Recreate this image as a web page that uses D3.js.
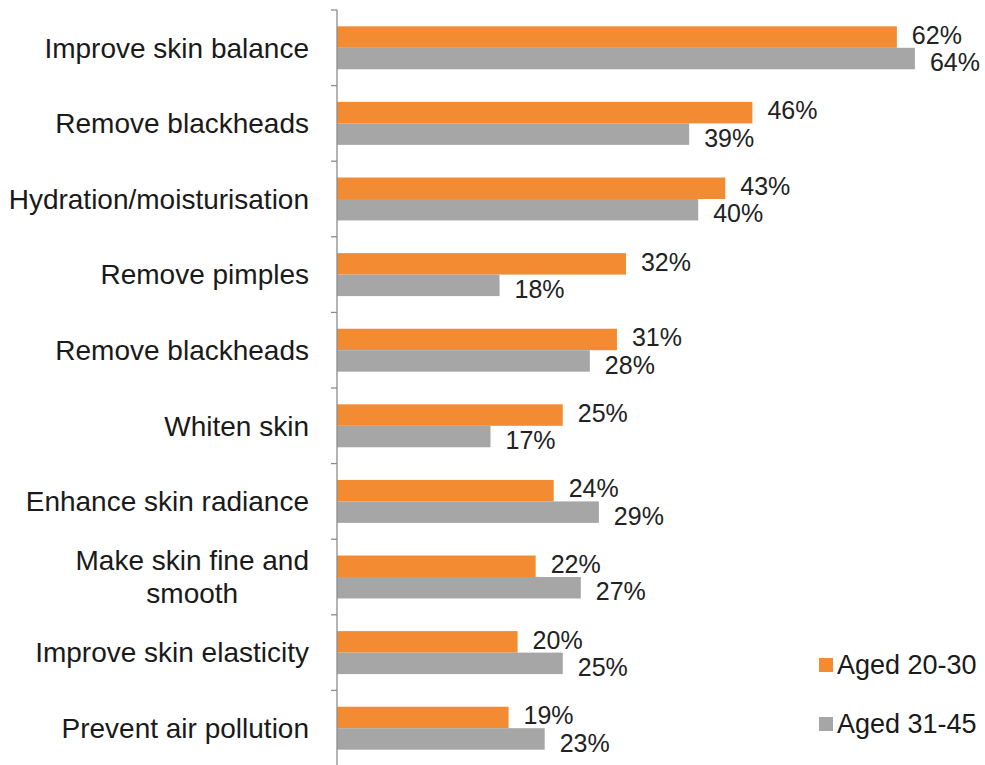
<!DOCTYPE html>
<html>
<head>
<meta charset="utf-8">
<script src="https://cdn.jsdelivr.net/npm/d3@7/dist/d3.min.js"></script>
<style>
  html, body { margin: 0; padding: 0; background: #ffffff; }
  svg { display: block; font-family: "Liberation Sans", Arial, sans-serif; }
</style>
</head>
<body>
<svg id="chart" width="985" height="765"></svg>
<script>
// Skin-care benefits sought, by age group (share of respondents, %)
const categories = [
  "Improve skin balance",
  "Remove blackheads",
  "Hydration/moisturisation",
  "Remove pimples",
  "Remove blackheads ",
  "Whiten skin",
  "Enhance skin radiance",
  "Make skin fine and|smooth",
  "Improve skin elasticity",
  "Prevent air pollution"
];
const seriesNames = ["Aged 20-30", "Aged 31-45"];
const aged20to30 = [62, 46, 43, 32, 31, 25, 24, 22, 20, 19];
const aged31to45 = [64, 39, 40, 18, 28, 17, 29, 27, 25, 23];
const seriesValues = [aged20to30, aged31to45];
const colors = ["#F28B32", "#A6A6A6"];

const svg = d3.select("#chart");
const W = 985, H = 765;
const axisX = 337;

const x = d3.scaleLinear().domain([0, 70]).range([axisX, axisX + 70 * 9.03]);
const y = d3.scaleBand().domain(categories).range([10, 766]).padding(0);
const ySeries = d3.scaleBand().domain(seriesNames)
  .range([0, y.bandwidth()]).paddingInner(0).paddingOuter(0.76);

const rows = categories.map((c, i) => ({
  cat: c,
  vals: seriesNames.map((s, j) => ({ series: s, j, v: seriesValues[j][i] }))
}));

// bars
const groups = svg.append("g").selectAll("g.row")
  .data(rows).join("g")
  .attr("class", "row")
  .attr("transform", d => `translate(0,${y(d.cat)})`);

groups.selectAll("rect")
  .data(d => d.vals).join("rect")
  .attr("x", x(0))
  .attr("y", d => ySeries(d.series))
  .attr("width", d => x(d.v) - x(0))
  .attr("height", ySeries.bandwidth())
  .attr("fill", d => colors[d.j]);

// value labels: the shorter bar's label of a pair drops a little lower
groups.selectAll("text.val")
  .data(d => d.vals).join("text")
  .attr("class", "val")
  .attr("x", d => x(d.v) + 15)
  .attr("y", d => ySeries(d.series) + ySeries.bandwidth() / 2 + (d.j === 0 ? -2 : 4))
  .attr("dy", "0.35em")
  .attr("font-size", 25)
  .attr("fill", "#222222")
  .text(d => d.v + "%");

// category axis
const axis = d3.axisLeft(y).tickSize(0).tickFormat("");
const axisG = svg.append("g").attr("transform", `translate(${axisX},0)`).call(axis);
axisG.select(".domain").attr("stroke", "#8c8c8c").attr("stroke-width", 1.3)
  .attr("d", `M0,${y.range()[0]}V${H + 5}`);

// boundary tick marks between categories
const bounds = categories.map(c => y(c));
svg.append("g").selectAll("line")
  .data(bounds).join("line")
  .attr("x1", axisX - 6).attr("x2", axisX)
  .attr("y1", d => d).attr("y2", d => d)
  .attr("stroke", "#8c8c8c").attr("stroke-width", 1.3);

// category labels (multi-line labels centred on their own block, right-aligned to the axis)
const labelRight = 309;
const lineH = 33;
rows.forEach(r => {
  const lines = r.cat.trim().split("|");
  const cy = y(r.cat) + y.bandwidth() / 2;
  const t = svg.append("text")
    .attr("font-size", 28)
    .attr("fill", "#1a1a1a")
    .attr("text-anchor", lines.length > 1 ? "middle" : "end");
  lines.forEach((ln, k) => {
    t.append("tspan")
      .attr("y", cy + (k - (lines.length - 1) / 2) * lineH)
      .attr("dy", "0.35em")
      .text(ln);
  });
  if (lines.length > 1) {
    const widths = [];
    t.selectAll("tspan").each(function () { widths.push(this.getComputedTextLength()); });
    const wMax = d3.max(widths);
    t.selectAll("tspan").attr("x", labelRight - wMax / 2);
  } else {
    t.selectAll("tspan").attr("x", labelRight);
  }
});

// legend
const legend = svg.append("g").attr("transform", "translate(819,0)");
const legendY = [665, 724];
seriesNames.forEach((s, j) => {
  legend.append("rect")
    .attr("x", 0).attr("y", legendY[j] - 7)
    .attr("width", 14).attr("height", 14)
    .attr("fill", colors[j]);
  legend.append("text")
    .attr("x", 18).attr("y", legendY[j])
    .attr("dy", "0.35em")
    .attr("font-size", 27)
    .attr("fill", "#1a1a1a")
    .text(s);
});
</script>
</body>
</html>
